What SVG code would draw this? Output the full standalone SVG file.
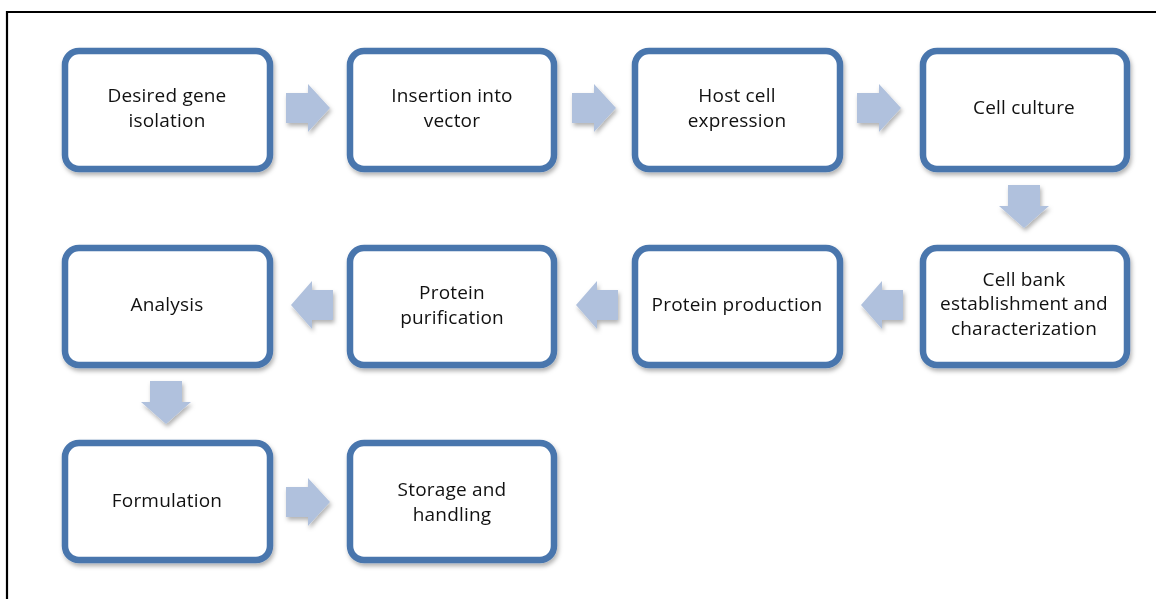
<svg xmlns="http://www.w3.org/2000/svg" width="1156" height="599" viewBox="0 0 1156 599">
<defs>
<style>
.box{fill:#fff;stroke:#4a76ad;stroke-width:6.5}
.arr{fill:#b0c1dd}
.t{font-family:"Open Sans","Liberation Sans",sans-serif;font-size:19px;fill:#111;text-anchor:middle;letter-spacing:0.2px}
</style>
<filter id="sh" x="-10%" y="-10%" width="125%" height="130%">
<feDropShadow dx="1.5" dy="3" stdDeviation="2" flood-color="#000" flood-opacity="0.3"/>
</filter>
<path id="ra" d="M0,-15 H22 V-24 L44,0 L22,24 V15 H0 Z"/>
<path id="la" d="M0,-15 H-21 V-24 L-42,0 L-21,24 V15 H0 Z"/>
<path id="da" d="M-16,0 V21 H-25 L0,43 L25,21 H16 V0 Z"/>
</defs>
<rect width="1156" height="599" fill="#fff"/>
<path d="M7,599 V12 H1156" fill="none" stroke="#000" stroke-width="2.2"/>

<g id="connectors" class="arr" filter="url(#sh)">
<use href="#ra" x="286" y="108"/>
<use href="#ra" x="572" y="108"/>
<use href="#ra" x="857" y="108"/>
<use href="#da" x="1024" y="185"/>
<use href="#la" x="903" y="305"/>
<use href="#la" x="618" y="305"/>
<use href="#la" x="333" y="305"/>
<use href="#da" x="166" y="381"/>
<use href="#ra" x="286" y="502"/>
</g>

<g id="n1"><rect class="box" x="65" y="51" width="205" height="118" rx="14" filter="url(#sh)"/>
<text class="t" x="167" y="102">Desired gene</text><text class="t" x="167" y="127">isolation</text></g>
<g id="n2"><rect class="box" x="350" y="51" width="204" height="118" rx="14" filter="url(#sh)"/>
<text class="t" x="452" y="102">Insertion into</text><text class="t" x="452" y="127">vector</text></g>
<g id="n3"><rect class="box" x="635" y="51" width="205" height="118" rx="14" filter="url(#sh)"/>
<text class="t" x="737" y="102">Host cell</text><text class="t" x="737" y="127">expression</text></g>
<g id="n4"><rect class="box" x="923" y="51" width="204" height="118" rx="14" filter="url(#sh)"/>
<text class="t" x="1024" y="114">Cell culture</text></g>

<g id="n5"><rect class="box" x="923" y="248" width="204" height="117" rx="14" filter="url(#sh)"/>
<text class="t" x="1024" y="286">Cell bank</text><text class="t" x="1024" y="310">establishment and</text><text class="t" x="1024" y="335">characterization</text></g>
<g id="n6"><rect class="box" x="635" y="248" width="205" height="117" rx="14" filter="url(#sh)"/>
<text class="t" x="737" y="311">Protein production</text></g>
<g id="n7"><rect class="box" x="350" y="248" width="204" height="117" rx="14" filter="url(#sh)"/>
<text class="t" x="452" y="299">Protein</text><text class="t" x="452" y="324">purification</text></g>
<g id="n8"><rect class="box" x="65" y="248" width="205" height="117" rx="14" filter="url(#sh)"/>
<text class="t" x="167" y="311">Analysis</text></g>

<g id="n9"><rect class="box" x="65" y="443" width="205" height="117" rx="14" filter="url(#sh)"/>
<text class="t" x="167" y="507">Formulation</text></g>
<g id="n10"><rect class="box" x="350" y="443" width="204" height="117" rx="14" filter="url(#sh)"/>
<text class="t" x="452" y="496">Storage and</text><text class="t" x="452" y="521">handling</text></g>
</svg>
